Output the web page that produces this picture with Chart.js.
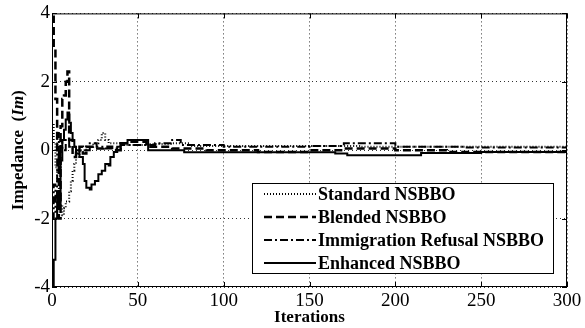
<!DOCTYPE html>
<html><head><meta charset="utf-8">
<script src="https://cdn.jsdelivr.net/npm/chart.js@4.4.1/dist/chart.umd.min.js"></script>
<style>html,body{margin:0;padding:0;background:#fff}#wrap{width:585px;height:328px}</style>
</head><body><div id="wrap"><canvas id="c" width="585" height="328"></canvas></div>
<script>
const xTicks = [0, 50, 100, 150, 200, 250, 300];
const yTicks = [-4, -2, 0, 2, 4];
const seriesNames = ["Standard NSBBO", "Blended NSBBO", "Immigration Refusal NSBBO", "Enhanced NSBBO"];

const standardIter = [0, 1, 2, 3, 4, 5, 6, 7, 8, 10, 11, 12, 13, 14, 16, 20, 24, 27, 29, 31, 33, 40, 55, 70, 80, 120, 180, 240, 300];
const standardVal  = [0.8, 0.2, -0.5, -0.9, -1.2, -1.6, -1.9, -1.7, -1.5, -1.2, -0.9, -0.6, -0.4, -0.2, 0.0, 0.1, 0.2, 0.3, 0.5, 0.3, 0.2, 0.15, 0.18, 0.2, 0.12, 0.12, 0.1, 0.1, 0.1];

const blendedIter = [0, 1, 2, 3, 4, 5, 6, 7, 8, 9, 10, 12, 14, 16, 18, 20, 25, 30, 35, 40, 45, 55, 70, 90, 120, 150, 170, 200, 230, 260, 300];
const blendedVal  = [3.9, 3.0, 1.5, 0.0, -2.0, 0.7, 1.5, 1.6, 2.0, 2.3, 0.3, -0.2, 0.0, 0.1, -0.1, 0.1, 0.05, 0.1, 0.0, 0.2, 0.25, 0.1, 0.05, 0.0, -0.05, 0.0, 0.05, 0.0, -0.05, -0.05, -0.05];

const refusalIter = [0, 1, 2, 3, 4, 5, 6, 8, 10, 14, 18, 22, 26, 30, 40, 60, 70, 75, 100, 150, 170, 200, 240, 300];
const refusalVal  = [-2.0, -1.0, -1.8, 0.5, -0.5, 0.3, 0.0, 0.3, 0.1, -0.1, 0.0, 0.2, 0.1, 0.05, 0.15, 0.2, 0.3, 0.15, 0.1, 0.12, 0.2, 0.1, 0.08, 0.05];

const enhancedIter = [0, 1, 2, 3, 4, 5, 6, 7, 8, 9, 10, 11, 12, 13, 14, 16, 18, 19, 20, 22, 23, 25, 27, 29, 31, 33, 34, 36, 38, 40, 44, 56, 77, 95, 165, 172, 215, 250, 300];
const enhancedVal  = [-4.0, -3.2, -2.0, -1.2, -1.6, -0.3, 0.3, 0.6, 0.9, 1.1, 0.8, 0.5, 0.3, 0.1, 0.0, -0.2, -0.4, -0.9, -1.1, -1.15, -1.0, -0.9, -0.7, -0.6, -0.4, -0.45, -0.2, -0.05, 0.1, 0.2, 0.3, 0.0, -0.06, -0.06, -0.1, -0.15, -0.08, -0.05, -0.05];

function pts(xs, ys){ return xs.map((x,i)=>({x:x, y:ys[i]})); }

const styles = [
  {dash:[1,2], w:2},
  {dash:[8,4], w:2.5},
  {dash:[8,3,2,3], w:2},
  {dash:[], w:2}
];
const allData = [pts(standardIter, standardVal), pts(blendedIter, blendedVal), pts(refusalIter, refusalVal), pts(enhancedIter, enhancedVal)];

const serif = "'Liberation Serif', 'Times New Roman', serif";

const framePlugin = {
  id: 'frame',
  afterDraw(chart){
    const ctx = chart.ctx, a = chart.chartArea;
    const xs = chart.scales.x, ys = chart.scales.y;
    ctx.save();
    ctx.strokeStyle = '#000'; ctx.lineWidth = 1; ctx.setLineDash([]);
    ctx.strokeRect(a.left + 0.5, a.top + 0.5, a.right - a.left - 1, a.bottom - a.top - 1);
    ctx.beginPath();
    xTicks.forEach(v => { const px = Math.round(xs.getPixelForValue(v)) + 0.5;
      ctx.moveTo(px, a.bottom); ctx.lineTo(px, a.bottom - 5);
      ctx.moveTo(px, a.top); ctx.lineTo(px, a.top + 5); });
    yTicks.forEach(v => { const py = Math.round(ys.getPixelForValue(v)) + 0.5;
      ctx.moveTo(a.left, py); ctx.lineTo(a.left + 5, py);
      ctx.moveTo(a.right, py); ctx.lineTo(a.right - 5, py); });
    ctx.stroke();
    // legend
    const lx = 252, ly = 183, lw = 301, lh = 90;
    ctx.fillStyle = '#fff';
    ctx.fillRect(lx, ly, lw, lh);
    ctx.strokeRect(lx + 0.5, ly + 0.5, lw, lh);
    ctx.font = "bold 18px " + serif;
    ctx.textBaseline = 'middle'; ctx.textAlign = 'left';
    chart.data.datasets.forEach((ds, i) => {
      const yy = ly + 11 + i * 23;
      ctx.beginPath();
      ctx.setLineDash(styles[i].dash);
      ctx.lineWidth = styles[i].w;
      ctx.strokeStyle = '#000';
      ctx.moveTo(lx + 12, yy); ctx.lineTo(lx + 64, yy);
      ctx.stroke();
      ctx.setLineDash([]);
      ctx.fillStyle = '#000';
      ctx.fillText(ds.label, lx + 66, yy + 1);
    });
    // axis titles
    ctx.font = "bold 17px " + serif;
    ctx.textAlign = 'center'; ctx.textBaseline = 'middle';
    ctx.fillText('Iterations', (a.left + a.right) / 2, 318);
    ctx.save();
    ctx.translate(19, (a.top + a.bottom) / 2);
    ctx.rotate(-Math.PI / 2);
    const p1 = 'Impedance  (', p2 = 'Im', p3 = ')';
    ctx.font = "bold 17px " + serif; const w1 = ctx.measureText(p1).width, w3 = ctx.measureText(p3).width;
    ctx.font = "bold italic 17px " + serif; const w2 = ctx.measureText(p2).width;
    let sx = -(w1 + w2 + w3) / 2;
    ctx.textAlign = 'left';
    ctx.font = "bold 17px " + serif; ctx.fillText(p1, sx, 0); sx += w1;
    ctx.font = "bold italic 17px " + serif; ctx.fillText(p2, sx, 0); sx += w2;
    ctx.font = "bold 17px " + serif; ctx.fillText(p3, sx, 0);
    ctx.restore();
    ctx.restore();
  }
};

new Chart(document.getElementById('c'), {
  type: 'line',
  data: {
    datasets: seriesNames.map((name, i) => ({
      label: name,
      data: allData[i],
      borderColor: '#000',
      borderWidth: styles[i].w,
      borderDash: styles[i].dash,
      stepped: 'before',
      pointRadius: 0,
      fill: false
    }))
  },
  options: {
    responsive: false,
    animation: false,
    layout: { padding: { top: 10, right: 18, left: 0, bottom: 0 } },
    plugins: { legend: { display: false }, tooltip: { enabled: false } },
    scales: {
      x: {
        type: 'linear', min: 0, max: 300,
        afterBuildTicks: s => { s.ticks = xTicks.map(v => ({ value: v })); },
        afterFit: s => { s.height = 41; },
        ticks: { color: '#000', font: { family: serif, size: 19 }, padding: 3, maxRotation: 0 },
        grid: { color: '#333', lineWidth: 1, drawTicks: false },
        border: { display: false, dash: [1, 3] }
      },
      y: {
        type: 'linear', min: -4, max: 4,
        afterBuildTicks: s => { s.ticks = yTicks.map(v => ({ value: v })); },
        afterFit: s => { s.width = 52; },
        ticks: { color: '#000', font: { family: serif, size: 19 }, padding: 2 },
        grid: { color: '#333', lineWidth: 1, drawTicks: false },
        border: { display: false, dash: [1, 3] }
      }
    }
  },
  plugins: [framePlugin]
});
</script>
</body></html>
